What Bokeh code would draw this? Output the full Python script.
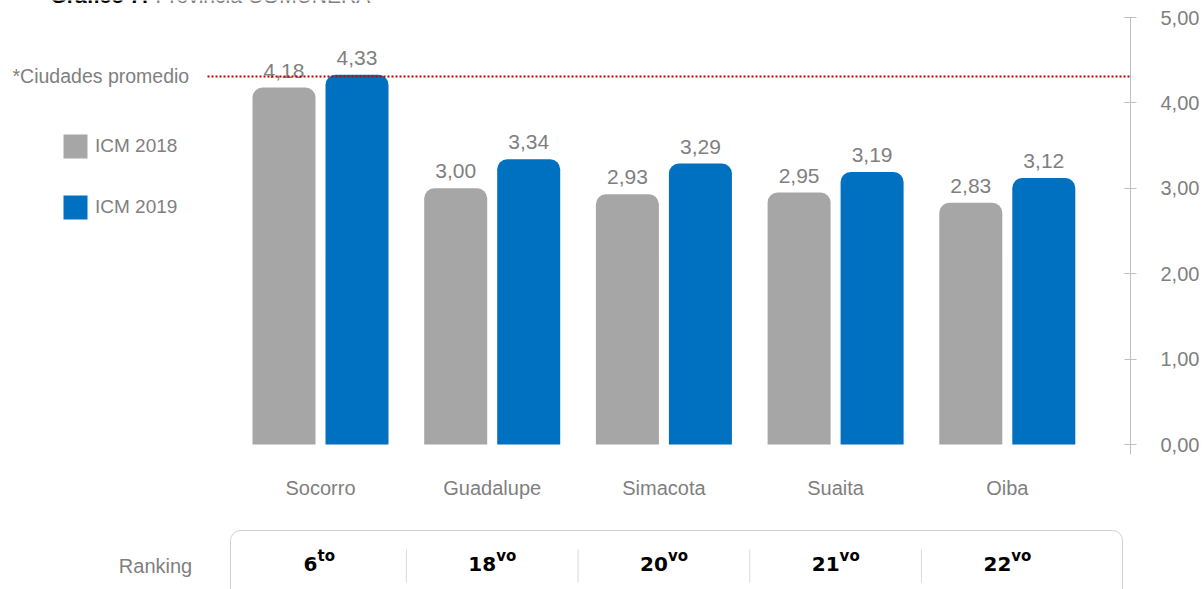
import numpy as np
from bokeh.plotting import figure
from bokeh.models import (Range1d, FixedTicker, Label, Legend, LegendItem,
                          ColumnDataSource)
from bokeh.core.properties import value
from bokeh.embed import file_html
from bokeh.resources import INLINE

# ---------------- data ----------------
categories = ["Socorro", "Guadalupe", "Simacota", "Suaita", "Oiba"]
icm_2018 = [4.18, 3.00, 2.93, 2.95, 2.83]
icm_2019 = [4.33, 3.34, 3.29, 3.19, 3.12]
series_names = ["ICM 2018", "ICM 2019"]
rank_number = ["6", "18", "20", "21", "22"]
rank_suffix = ["to", "vo", "vo", "vo", "vo"]
average_value = 4.31
average_label = "*Ciudades promedio"
ranking_label = "Ranking"
title_bold = "Gráfico 7:"
title_rest = "Provincia COMUNERA"
y_ticks = [0, 1, 2, 3, 4, 5]


def fmt(v):
    return f"{v:.2f}".replace(".", ",")


# ---------------- style ----------------
W, H = 1202, 589
FRAME_W = 1130
PX_PER_CAT = 171.7
FIRST_CAT_PX = 320
X_START = -FIRST_CAT_PX / PX_PER_CAT
X_END = X_START + FRAME_W / PX_PER_CAT
ZERO_PX, PX_PER_Y = 444, 85.4
Y_END = ZERO_PX / PX_PER_Y
Y_START = (ZERO_PX - H) / PX_PER_Y


def ypx(py):  # page pixel row -> data y
    return (ZERO_PX - py) / PX_PER_Y


def xpx(px):  # page pixel column -> data x
    return X_START + px / PX_PER_CAT


GRAY = "#a6a6a6"
BLUE = "#0070c0"
TXT = "#7f7f7f"
AXIS = "#bfbfbf"
RED = "#c00000"
FONT = "Liberation Sans"
FS = "20px"
RANK_FONT = "DejaVu Sans"

BAR_W = 63 / PX_PER_CAT
BAR_OFF = 36.5 / PX_PER_CAT

pos = np.arange(len(categories))
# centre each "number+suffix" pair: shift split point by half width difference
rank_shift = [(len(n) * 14 - len(s) * 10) / 2 for n, s in zip(rank_number, rank_suffix)]
src = ColumnDataSource(dict(
    x=pos, x18=pos - BAR_OFF, x19=pos + BAR_OFF,
    v18=icm_2018, v19=icm_2019,
    l18=[fmt(v) for v in icm_2018], l19=[fmt(v) for v in icm_2019],
    cat=categories, rn=rank_number, rs=rank_suffix, rshift=rank_shift,
))

p = figure(width=W, height=H, x_range=Range1d(X_START, X_END),
           y_range=Range1d(Y_START, Y_END), y_axis_location="right",
           x_axis_location=None, output_backend="svg", toolbar_location=None,
           min_border=0, min_border_left=0, min_border_top=0,
           min_border_bottom=0, min_border_right=0)
p.outline_line_color = None
p.xgrid.visible = False
p.ygrid.visible = False
p.background_fill_color = "white"
p.border_fill_color = "white"

# y axis
ax = p.yaxis[0]
ax.ticker = FixedTicker(ticks=y_ticks)
ax.major_label_overrides = {t: fmt(t) for t in y_ticks}
ax.bounds = (-0.12, 5)
ax.axis_line_color = AXIS
ax.major_tick_line_color = AXIS
ax.major_tick_in = 6
ax.major_tick_out = 6
ax.minor_tick_line_color = None
ax.major_label_text_color = TXT
ax.major_label_text_font = FONT
ax.major_label_text_font_size = FS
ax.major_label_standoff = 24

# bars
r18 = p.vbar(x="x18", top="v18", bottom=0, width=BAR_W, source=src,
             fill_color=GRAY, line_color=None, border_radius=(10, 10, 0, 0))
r19 = p.vbar(x="x19", top="v19", bottom=0, width=BAR_W, source=src,
             fill_color=BLUE, line_color=None, border_radius=(10, 10, 0, 0))

# value labels
for xc, vc, lc in (("x18", "v18", "l18"), ("x19", "v19", "l19")):
    p.text(x=xc, y=vc, text=lc, source=src, text_align="center",
           text_baseline="bottom", y_offset=-10, text_font=value(FONT),
           text_font_size="21px", text_color=TXT)

# category labels
p.text(x="x", y=ypx(487), text="cat", source=src, text_align="center",
       text_baseline="middle", text_font=value(FONT), text_font_size=FS,
       text_color=TXT)

# average dotted line
p.segment(x0=[xpx(207)], y0=[average_value], x1=[X_END + 1],
          y1=[average_value], line_color=RED, line_width=2, line_dash="2 2")
p.add_layout(Label(x=12, x_units="screen", y=average_value, y_units="data",
                   text=average_label, text_align="left",
                   text_baseline="middle", text_font=FONT,
                   text_font_size="19.5px", text_color=TXT))

# ranking box
p.quad(left=xpx(230), right=xpx(1122), top=ypx(530), bottom=ypx(620),
       fill_color=None, line_color="#d0d0d0", line_width=1, border_radius=10)
p.segment(x0=pos[:-1] + 0.5, y0=ypx(549), x1=pos[:-1] + 0.5, y1=ypx(582),
          line_color="#d9d9d9", line_width=1)
p.text(x="x", y=ypx(570), text="rn", source=src, text_align="right",
       text_baseline="bottom", x_offset="rshift",
       text_font=value(RANK_FONT), text_font_style="bold",
       text_font_size="20px", text_color="black")
p.text(x="x", y=ypx(570), text="rs", source=src, text_align="left",
       text_baseline="bottom", x_offset="rshift", y_offset=-6,
       text_font=value(RANK_FONT), text_font_style="bold",
       text_font_size="15px", text_color="black")
p.add_layout(Label(x=155, x_units="screen", y=ypx(565), y_units="data",
                   text=ranking_label, text_align="center",
                   text_baseline="middle", text_font=FONT,
                   text_font_size=FS, text_color=TXT))

# title (cut at the top edge, as in the source image)
p.add_layout(Label(x=50, x_units="screen", y=ypx(6), y_units="data",
                   text=title_bold, text_align="left",
                   text_baseline="bottom", text_font=FONT,
                   text_font_style="bold", text_font_size="21px",
                   text_color="black"))
p.add_layout(Label(x=155, x_units="screen", y=ypx(6), y_units="data",
                   text=title_rest, text_align="left",
                   text_baseline="bottom", text_font=FONT,
                   text_font_size="21px", text_color=TXT))

# legend
legend = Legend(items=[LegendItem(label=series_names[0], renderers=[r18]),
                       LegendItem(label=series_names[1], renderers=[r19])],
                location=(60, 367), glyph_width=30, glyph_height=30,
                spacing=31, padding=0, margin=0, label_standoff=5,
                border_line_color=None, background_fill_alpha=0,
                label_text_font=FONT, label_text_font_size="19px",
                label_text_color=TXT)
p.add_layout(legend)

open("out.html", "w").write(file_html(p, INLINE))
